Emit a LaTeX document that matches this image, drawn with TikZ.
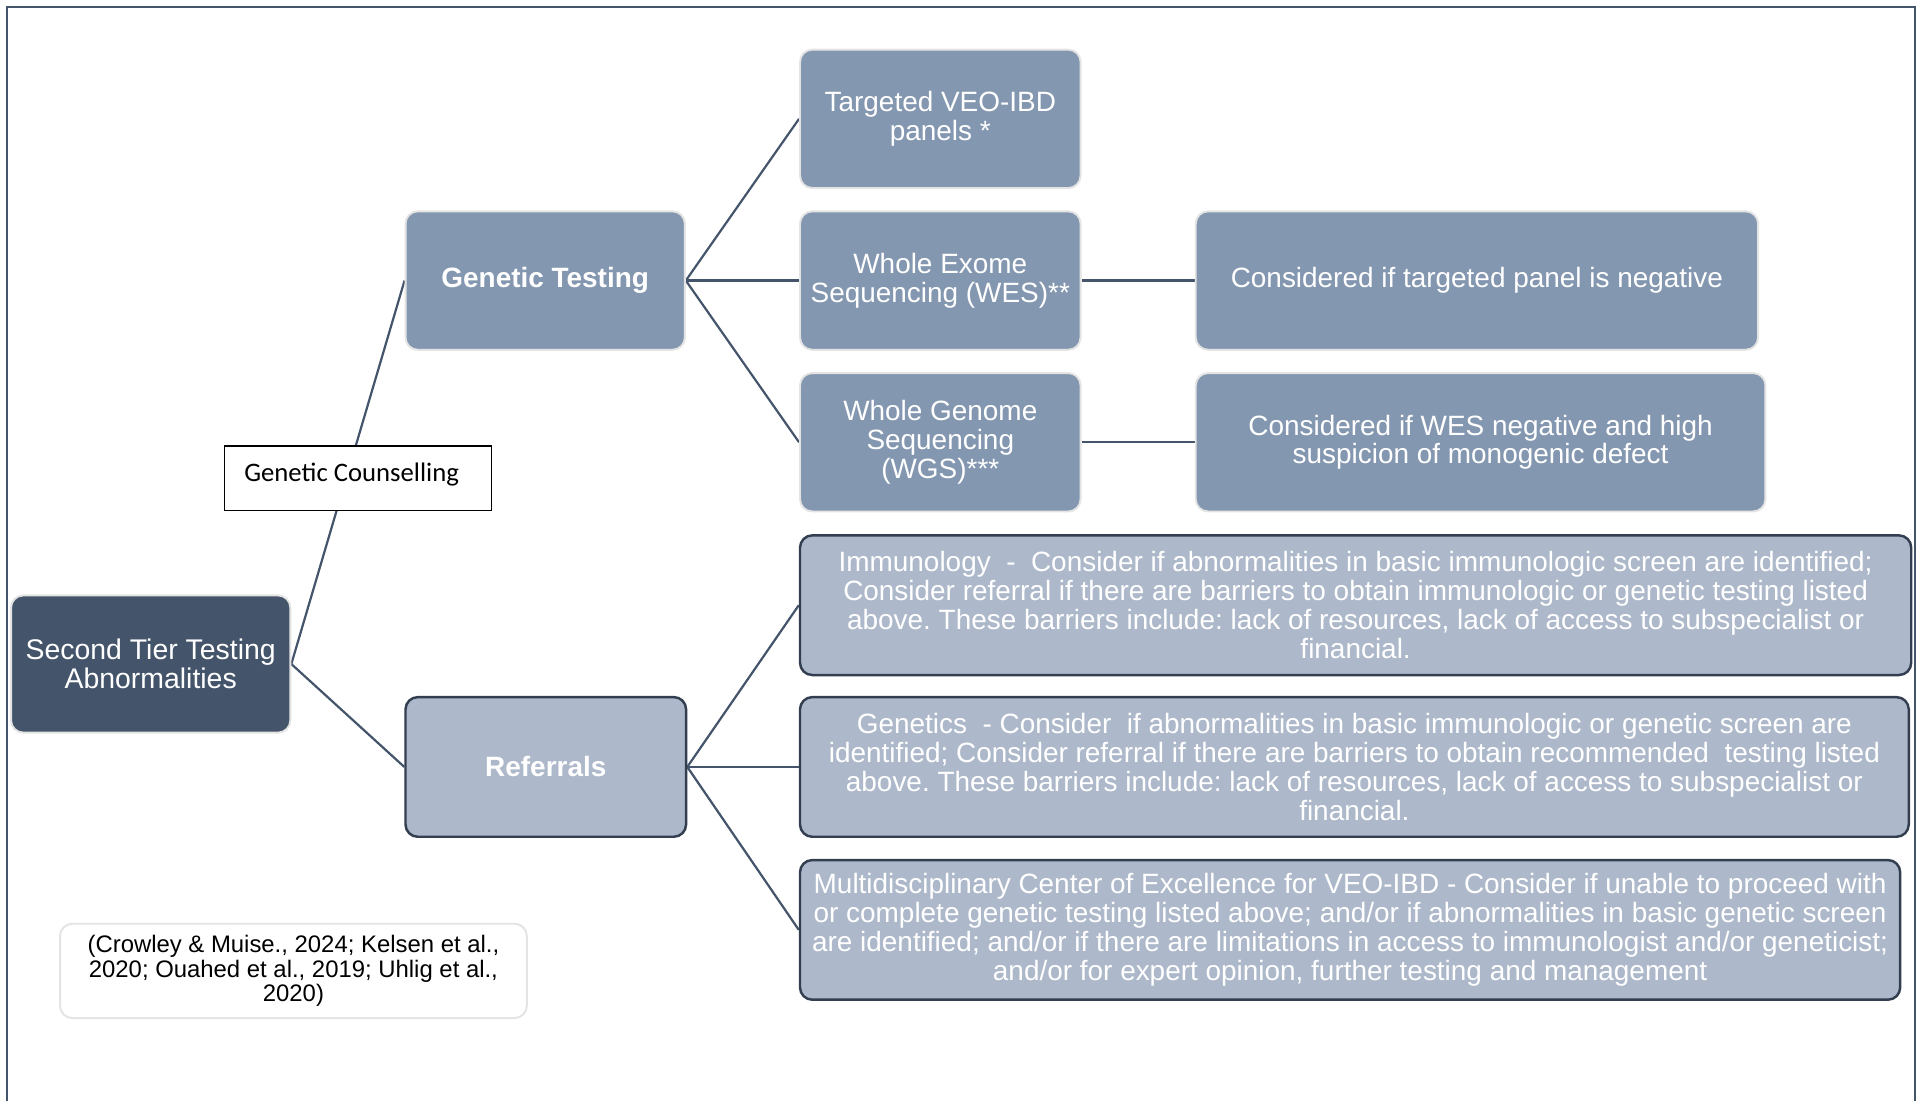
\documentclass[tikz,border=0pt]{standalone}
\usepackage{fontspec}
\setmainfont{Liberation Sans}
\newfontfamily\calibri{Carlito}
\usepackage{xcolor}
\usepackage{tikz}
\usetikzlibrary{backgrounds}

\definecolor{slate}{HTML}{44546A}
\definecolor{steel}{HTML}{8497B0}
\definecolor{mist}{HTML}{ADB9CA}
\definecolor{rim}{HTML}{E4E4E4}
\definecolor{ink}{HTML}{333F50}
\frenchspacing

\begin{document}
\begin{tikzpicture}[x=0.5pt,y=-0.5pt,
  every node/.style={inner sep=0pt,align=center,text=white,font=\fontsize{11.4}{11.8}\selectfont},
  darkbox/.style={draw=rim,line width=0.8pt,fill=slate,rounded corners=5pt},
  testbox/.style={draw=rim,line width=0.8pt,fill=steel,rounded corners=5pt,minimum height=56.5pt},
  referbox/.style={draw=ink,line width=1pt,fill=mist,rounded corners=5pt,minimum height=57pt},
  link/.style={draw=slate,line width=0.9pt}]
  \useasboundingbox (0,0) rectangle (1568,899);
  % frame, open at the bottom
  \draw[slate,line width=0.8pt] (6,899) -- (6,6) -- (1563,6) -- (1563,899);

  \node[darkbox,minimum width=114pt,minimum height=56pt,font=\fontsize{11.6}{12}\selectfont] (root) at (123,542) {Second Tier Testing\\Abnormalities};
  \node[testbox,minimum width=114pt,font=\bfseries\fontsize{11.4}{12}\selectfont] (gentest) at (445,229) {Genetic Testing};
  \node[referbox,minimum width=114.5pt,font=\bfseries\fontsize{11.4}{12}\selectfont] (referrals) at (445.5,626) {Referrals};

  % genetic testing branch
  \node[testbox,minimum width=114.5pt] (panels) at (767.5,97) {Targeted VEO-IBD\\panels *};
  \node[testbox,minimum width=114.5pt] (wes) at (767.5,229) {Whole Exome\\Sequencing (WES)**};
  \node[testbox,minimum width=114.5pt] (wgs) at (767.5,361) {Whole Genome\\Sequencing\\(WGS)***};
  \node[testbox,minimum width=229.5pt] (wesnote) at (1205.5,229) {Considered if targeted panel is negative};
  \node[testbox,minimum width=232.5pt] (wgsnote) at (1208.5,361) {Considered if WES negative and high\\suspicion of monogenic defect};

  % referrals branch
  \node[referbox,minimum width=453.5pt] (immuno) at (1106.5,494) {Immunology\ \ -\ \ Consider if abnormalities in basic immunologic screen are identified;\\Consider referral if there are barriers to obtain immunologic or genetic testing listed\\above. These barriers include: lack of resources, lack of access to subspecialist or\\financial.};
  \node[referbox,minimum width=452.5pt] (genetics) at (1105.5,626) {Genetics\ \ - Consider\ \ if abnormalities in basic immunologic or genetic screen are\\identified; Consider referral if there are barriers to obtain recommended\ \ testing listed\\above. These barriers include: lack of resources, lack of access to subspecialist or\\financial.};
  \node[referbox,minimum width=449pt] (centre) at (1102,759) {Multidisciplinary Center of Excellence for VEO-IBD - Consider if unable to proceed with\\or complete genetic testing listed above; and/or if abnormalities in basic genetic screen\\are identified; and/or if there are limitations in access to immunologist and/or geneticist;\\and/or for expert opinion, further testing and management};

  \node[draw=black,line width=0.5pt,fill=white,minimum width=109pt,minimum height=26.5pt] (counsel) at (292,390.5) {};
  \node[anchor=west,text=black,font=\calibri\fontsize{10.9}{12}\selectfont] (counseltext) at (199,387) {Genetic Counselling};

  \node[draw=rim,line width=0.8pt,fill=white,rounded corners=5pt,minimum width=190.5pt,minimum height=38.5pt,text=black,font=\fontsize{9.75}{10}\selectfont] (cite) at (239.5,792.5) {(Crowley \& Muise., 2024; Kelsen et al.,\\2020; Ouahed et al., 2019; Uhlig et al.,\\2020)};

  \begin{scope}[on background layer]
    \draw[link] (root.east) -- (gentest.west);
    \draw[link] (root.east) -- (referrals.west);
    \foreach \t in {panels,wes,wgs}
      \draw[link] (gentest.east) -- (\t.west);
    \draw[link] (wes.east) -- (wesnote.west);
    \draw[link] (wgs.east) -- (wgsnote.west);
    \foreach \t in {immuno,genetics,centre}
      \draw[link] (referrals.east) -- (\t.west);
  \end{scope}
\end{tikzpicture}
\end{document}
